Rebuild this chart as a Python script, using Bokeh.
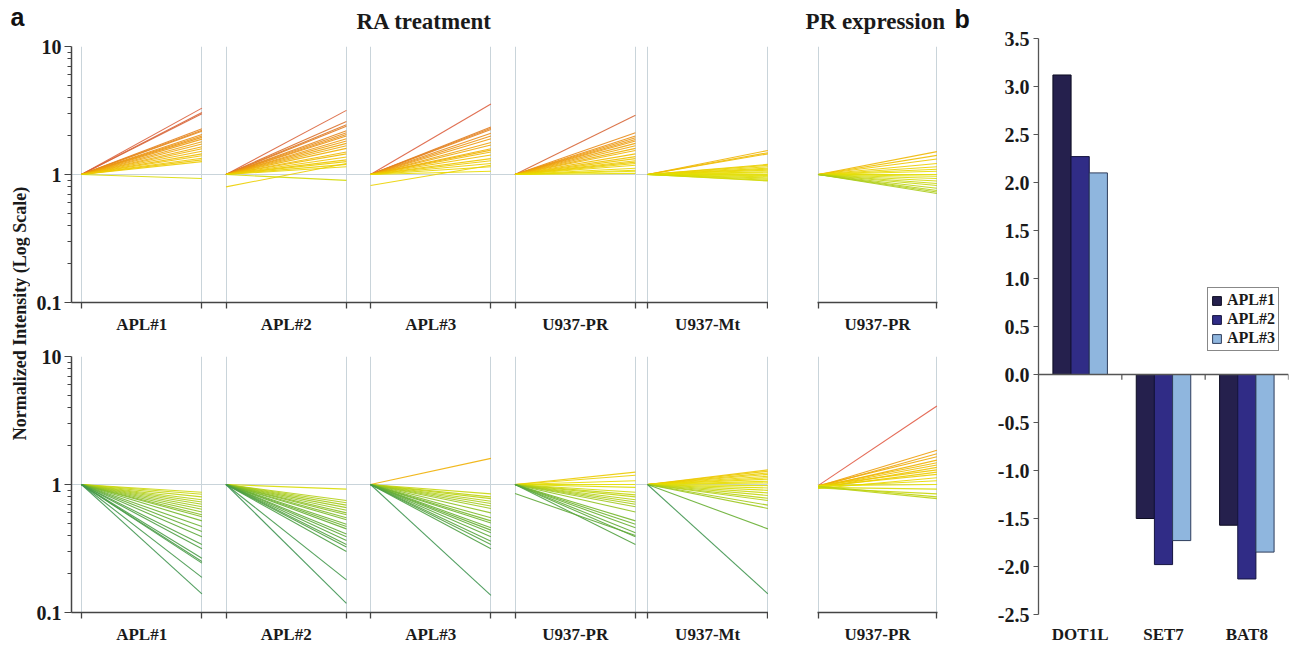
import math
from bokeh.plotting import figure
from bokeh.models import (ColumnDataSource, Range1d, FixedTicker, Span, Legend,
                          LegendItem, NumeralTickFormatter)
from bokeh.layouts import row, column
from bokeh.embed import file_html
from bokeh.resources import INLINE
from bokeh.core.properties import value

# ---------------------------------------------------------------- data
ra_panels = ["APL#1", "APL#2", "APL#3", "U937-PR", "U937-Mt"]
pr_panels = ["U937-PR"]
title_ra = "RA treatment"
title_pr = "PR expression"
y_label = "Normalized Intensity (Log Scale)"
log_ticks = [0.1, 1, 10]
log_tick_labels = ["0.1", "1", "10"]

# upper row: genes induced by RA (start value -> end value, normalized)
top_apl1_start = [1.0, 1.0, 1.0, 1.0, 1.0, 1.0, 1.0, 1.0, 1.0, 1.0, 1.0, 1.0, 1.0, 1.0, 1.0, 1.0, 1.0, 1.0, 1.0, 1.0, 1.0]
top_apl1_end = [3.30, 3.05, 2.98, 2.28, 2.22, 2.18, 2.05, 2.00, 1.95, 1.89, 1.80, 1.73, 1.65, 1.59, 1.52, 1.45, 1.40, 1.34, 1.30, 1.26, 0.93]
top_apl2_start = [1.0, 1.0, 1.0, 1.0, 1.0, 1.0, 1.0, 1.0, 1.0, 1.0, 1.0, 1.0, 1.0, 1.0, 1.0, 1.0, 1.0, 1.0, 1.0, 1.0, 0.80, 1.0]
top_apl2_end = [3.17, 2.60, 2.45, 2.38, 2.20, 2.12, 2.05, 2.00, 1.90, 1.83, 1.75, 1.68, 1.60, 1.50, 1.45, 1.37, 1.30, 1.26, 1.20, 1.15, 1.22, 0.90]
top_apl3_start = [1.0, 1.0, 1.0, 1.0, 1.0, 1.0, 1.0, 1.0, 1.0, 1.0, 1.0, 1.0, 1.0, 1.0, 1.0, 1.0, 1.0, 1.0, 0.82]
top_apl3_end = [3.55, 2.35, 2.30, 2.25, 2.10, 2.00, 1.90, 1.78, 1.70, 1.59, 1.55, 1.50, 1.42, 1.33, 1.28, 1.22, 1.15, 1.06, 1.18]
top_u937pr_start = [1.0, 1.0, 1.0, 1.0, 1.0, 1.0, 1.0, 1.0, 1.0, 1.0, 1.0, 1.0, 1.0, 1.0, 1.0, 1.0, 1.0, 1.0, 1.0, 1.0, 1.0]
top_u937pr_end = [2.90, 2.12, 2.00, 1.94, 1.88, 1.83, 1.75, 1.68, 1.60, 1.54, 1.45, 1.38, 1.33, 1.28, 1.25, 1.22, 1.18, 1.12, 1.08, 1.06, 1.02]
top_u937mt_start = [1.0, 1.0, 1.0, 1.0, 1.0, 1.0, 1.0, 1.0, 1.0, 1.0, 1.0, 1.0, 1.0, 1.0, 1.0, 1.0, 1.0, 1.0]
top_u937mt_end = [1.54, 1.48, 1.45, 1.20, 1.18, 1.15, 1.12, 1.10, 1.08, 1.05, 1.03, 1.00, 0.98, 0.96, 0.94, 0.92, 0.90, 0.89]
top_pr_start = [1.0, 1.0, 1.0, 1.0, 1.0, 1.0, 1.0, 1.0, 1.0, 1.0, 1.0, 1.0, 1.0, 1.0, 1.0, 1.0, 1.0]
top_pr_end = [1.51, 1.41, 1.32, 1.22, 1.15, 1.10, 1.06, 1.00, 0.97, 0.93, 0.89, 0.85, 0.82, 0.78, 0.75, 0.73, 0.71]

# lower row: genes repressed by RA
bot_apl1_start = [1.0, 1.0, 1.0, 1.0, 1.0, 1.0, 1.0, 1.0, 1.0, 1.0, 1.0, 1.0, 1.0, 1.0, 1.0, 1.0, 1.0, 1.0, 1.0, 1.0, 1.0, 1.0]
bot_apl1_end = [0.87, 0.84, 0.80, 0.76, 0.73, 0.70, 0.67, 0.64, 0.61, 0.58, 0.56, 0.52, 0.47, 0.43, 0.39, 0.34, 0.315, 0.265, 0.25, 0.243, 0.188, 0.14]
bot_apl2_start = [1.0, 1.0, 1.0, 1.0, 1.0, 1.0, 1.0, 1.0, 1.0, 1.0, 1.0, 1.0, 1.0, 1.0, 1.0, 1.0, 1.0, 1.0, 1.0, 1.0, 1.0]
bot_apl2_end = [0.92, 0.75, 0.72, 0.69, 0.66, 0.63, 0.60, 0.58, 0.55, 0.53, 0.49, 0.47, 0.45, 0.41, 0.39, 0.365, 0.34, 0.325, 0.30, 0.18, 0.118]
bot_apl3_start = [1.0, 1.0, 1.0, 1.0, 1.0, 1.0, 1.0, 1.0, 1.0, 1.0, 1.0, 1.0, 1.0, 1.0, 1.0, 1.0, 1.0, 1.0, 1.0, 1.0]
bot_apl3_end = [1.60, 0.845, 0.80, 0.775, 0.74, 0.71, 0.68, 0.65, 0.60, 0.55, 0.52, 0.50, 0.46, 0.44, 0.42, 0.39, 0.36, 0.34, 0.315, 0.136]
bot_u937pr_start = [1.0, 1.0, 1.0, 1.0, 1.0, 1.0, 1.0, 1.0, 1.0, 1.0, 1.0, 1.0, 1.0, 1.0, 1.0, 1.0, 1.0, 1.0, 1.0, 0.85]
bot_u937pr_end = [1.25, 1.18, 1.07, 1.00, 0.95, 0.87, 0.83, 0.80, 0.76, 0.73, 0.70, 0.67, 0.61, 0.52, 0.49, 0.46, 0.42, 0.39, 0.34, 0.40]
bot_u937mt_start = [1.0, 1.0, 1.0, 1.0, 1.0, 1.0, 1.0, 1.0, 1.0, 1.0, 1.0, 1.0, 1.0, 1.0, 1.0, 1.0, 1.0, 1.0, 1.0, 1.0]
bot_u937mt_end = [1.30, 1.27, 1.23, 1.20, 1.16, 1.13, 1.10, 1.06, 1.03, 0.98, 0.94, 0.90, 0.86, 0.82, 0.78, 0.75, 0.69, 0.65, 0.45, 0.14]
bot_pr_start = [0.98, 0.97, 0.96, 0.98, 0.95, 0.97, 0.96, 0.94, 0.98, 0.95, 0.97, 0.93, 0.96, 0.98, 0.95, 0.94, 0.97, 0.96]
bot_pr_end = [4.10, 1.85, 1.74, 1.65, 1.55, 1.48, 1.42, 1.36, 1.30, 1.25, 1.20, 1.13, 1.07, 1.00, 0.92, 0.845, 0.80, 0.775]

# panel b
genes = ["DOT1L", "SET7", "BAT8"]
series = ["APL#1", "APL#2", "APL#3"]
apl1_vals = [3.12, -1.50, -1.57]
apl2_vals = [2.27, -1.98, -2.13]
apl3_vals = [2.10, -1.73, -1.85]
bar_ticks = [-2.5, -2.0, -1.5, -1.0, -0.5, 0.0, 0.5, 1.0, 1.5, 2.0, 2.5, 3.0, 3.5]

# ---------------------------------------------------------------- style / layout
SERIF = "Liberation Serif"
SANS = "Liberation Sans"
TXT = "#1a1a1a"
AXC = "#444444"
GRIDC = "#c9d4da"
PANEL_W = 10
PANEL_STARTS = [0, 12, 24, 36, 47]
COLOR_STOPS = [(-0.9, (62, 148, 82)), (-0.5, (78, 158, 68)), (-0.3, (112, 180, 46)),
               (-0.15, (170, 204, 24)), (0.0, (230, 224, 0)), (0.15, (240, 192, 0)),
               (0.3, (236, 148, 18)), (0.45, (214, 104, 56)), (0.62, (226, 90, 70))]
BAR_COLORS = ["#25204d", "#302c86", "#8fb6de"]
BAR_LINES = ["#0d0c22", "#15143f", "#2e3d5c"]
BAR_OFFSETS = [-0.218, 0.0, 0.218]
BAR_W = 0.218


def color_for(v):
    t = math.log10(v)
    if t <= COLOR_STOPS[0][0]:
        c = COLOR_STOPS[0][1]
    elif t >= COLOR_STOPS[-1][0]:
        c = COLOR_STOPS[-1][1]
    else:
        for (t0, c0), (t1, c1) in zip(COLOR_STOPS[:-1], COLOR_STOPS[1:]):
            if t0 <= t <= t1:
                f = (t - t0) / (t1 - t0)
                c = tuple(int(round(a + (b - a) * f)) for a, b in zip(c0, c1))
                break
    return "#%02x%02x%02x" % c


def lines_source(pairs, starts):
    xs, ys, cs = [], [], []
    for (s_list, e_list), x0 in zip(pairs, starts):
        for s, e in zip(s_list, e_list):
            xs.append([x0, x0 + PANEL_W])
            ys.append([s, e])
            cs.append(color_for(e))
    return ColumnDataSource(dict(xs=xs, ys=ys, color=cs))


def make_panel(width, height, xr, starts, names, pairs, mb, show_y):
    p = figure(width=width, height=height, x_range=xr, y_range=Range1d(0.1, 10),
               y_axis_type="log", output_backend="svg", toolbar_location=None,
               min_border_left=mb[0], min_border_right=mb[1],
               min_border_top=mb[2], min_border_bottom=mb[3])
    p.outline_line_color = None
    bounds = []
    for s in starts:
        bounds += [s, s + PANEL_W]
    centers = [s + PANEL_W / 2 for s in starts]
    xa = p.xaxis[0]
    xa.ticker = FixedTicker(ticks=centers, minor_ticks=bounds)
    xa.major_label_overrides = {c: n for c, n in zip(centers, names)}
    xa.major_tick_out = 0
    xa.major_tick_in = 0
    xa.minor_tick_out = 6
    xa.minor_tick_in = 0
    xa.minor_tick_line_color = AXC
    xa.minor_tick_line_width = 1.3
    xa.axis_line_color = AXC
    xa.axis_line_width = 1.5
    xa.major_label_standoff = 6
    xa.major_label_text_font = SERIF
    xa.major_label_text_font_style = "bold"
    xa.major_label_text_font_size = "17px"
    xa.major_label_text_color = TXT
    ya = p.yaxis[0]
    ya.ticker = FixedTicker(ticks=log_ticks,
                            minor_ticks=[0.2, 0.3, 0.4, 0.5, 0.6, 0.7, 0.8, 0.9,
                                         2, 3, 4, 5, 6, 7, 8, 9])
    ya.major_label_overrides = {t: l for t, l in zip(log_ticks, log_tick_labels)}
    ya.major_tick_out = 7
    ya.major_tick_in = 0
    ya.minor_tick_out = 4
    ya.minor_tick_in = 0
    ya.major_tick_line_color = AXC
    ya.minor_tick_line_color = AXC
    ya.axis_line_color = AXC
    ya.axis_line_width = 1.5
    ya.major_label_standoff = 3
    ya.major_label_text_font = SERIF
    ya.major_label_text_font_style = "bold"
    ya.major_label_text_font_size = "20px"
    ya.major_label_text_color = TXT
    ya.visible = show_y
    p.xgrid.ticker = FixedTicker(ticks=bounds)
    p.ygrid.ticker = FixedTicker(ticks=[1, 10])
    p.grid.grid_line_color = GRIDC
    p.grid.grid_line_width = 1
    src = lines_source(pairs, starts)
    p.multi_line(xs="xs", ys="ys", line_color="color", source=src,
                 line_width=1.1, line_alpha=0.9)
    return p


LBL_W, A_W, PR_W, B_W = 30, 738, 217, 305
HDR_H, TOP_H, BOT_H, B_H = 36, 310, 301, 647
xr_a = (-0.83, 57.05)

a_top = make_panel(A_W, TOP_H, Range1d(*xr_a), PANEL_STARTS, ra_panels,
                   [(top_apl1_start, top_apl1_end), (top_apl2_start, top_apl2_end),
                    (top_apl3_start, top_apl3_end), (top_u937pr_start, top_u937pr_end),
                    (top_u937mt_start, top_u937mt_end)],
                   (41, 0, 10, 44), True)
pr_top = make_panel(PR_W, TOP_H, Range1d(-0.05, 10.05), [0], pr_panels,
                    [(top_pr_start, top_pr_end)], (49, 48, 10, 44), False)
a_bot = make_panel(A_W, BOT_H, Range1d(*xr_a), PANEL_STARTS, ra_panels,
                   [(bot_apl1_start, bot_apl1_end), (bot_apl2_start, bot_apl2_end),
                    (bot_apl3_start, bot_apl3_end), (bot_u937pr_start, bot_u937pr_end),
                    (bot_u937mt_start, bot_u937mt_end)],
                   (41, 0, 10, 35), True)
pr_bot = make_panel(PR_W, BOT_H, Range1d(-0.05, 10.05), [0], pr_panels,
                    [(bot_pr_start, bot_pr_end)], (49, 48, 10, 35), False)

# header strip with panel letters and titles (pixel positions)
HDR_W = LBL_W + A_W + PR_W
hdr = figure(width=HDR_W, height=HDR_H, x_range=Range1d(0, HDR_W), y_range=Range1d(HDR_H, 0),
             x_axis_location=None, y_axis_location=None, min_border=0,
             output_backend="svg", toolbar_location=None)
hdr.outline_line_color = None
hdr.grid.visible = False
hdr.text(x=[10, 954], y=[16, 18], text=["a", "b"], text_font=value(SANS),
         text_font_style="bold", text_font_size="25px", text_baseline="middle",
         text_align="left", text_color="#111111")
hdr.text(x=[356, 805], y=[21, 21], text=[title_ra, title_pr], text_font=value(SERIF),
         text_font_style="bold", text_font_size="23px", text_baseline="middle",
         text_align="left", text_color=TXT)

# y-axis title strip
LBL_H = TOP_H + BOT_H
lbl = figure(width=LBL_W, height=LBL_H, x_range=Range1d(0, LBL_W), y_range=Range1d(LBL_H, 0),
             x_axis_location=None, y_axis_location=None, min_border=0,
             output_backend="svg", toolbar_location=None)
lbl.outline_line_color = None
lbl.grid.visible = False
lbl.text(x=[19], y=[277], text=[y_label], angle=math.pi / 2, text_font=value(SERIF),
         text_font_style="bold", text_font_size="18px", text_align="center",
         text_baseline="middle", text_color=TXT)

# ---------------------------------------------------------------- panel b
pb = figure(width=B_W, height=B_H, x_range=Range1d(-0.5, 2.5), y_range=Range1d(-2.5, 3.5),
            output_backend="svg", toolbar_location=None,
            min_border_left=53, min_border_right=2, min_border_top=38, min_border_bottom=33)
pb.outline_line_color = None
pb.grid.visible = False
renderers = []
for vals, fc, lc, off in zip([apl1_vals, apl2_vals, apl3_vals], BAR_COLORS, BAR_LINES, BAR_OFFSETS):
    src = ColumnDataSource(dict(x=[i + off for i in range(len(genes))], top=vals))
    r = pb.vbar(x="x", top="top", bottom=0, width=BAR_W, source=src,
                fill_color=fc, line_color=lc, line_width=1)
    renderers.append(r)
pb.add_layout(Span(location=0, dimension="width", line_color="#555555", line_width=1.3))
bounds_b = [i + 0.5 for i in range(len(genes))]
pb.segment(x0=bounds_b, y0=[0] * len(bounds_b), x1=bounds_b, y1=[-0.055] * len(bounds_b),
           line_color="#555555", line_width=1.2)
xb = pb.xaxis[0]
xb.ticker = FixedTicker(ticks=list(range(len(genes))))
xb.major_label_overrides = {i: g for i, g in enumerate(genes)}
xb.axis_line_color = None
xb.major_tick_line_color = None
xb.minor_tick_line_color = None
xb.major_tick_out = 0
xb.major_tick_in = 0
xb.major_label_standoff = 10
xb.major_label_text_font = SERIF
xb.major_label_text_font_style = "bold"
xb.major_label_text_font_size = "17px"
xb.major_label_text_color = TXT
yb = pb.yaxis[0]
yb.ticker = FixedTicker(ticks=bar_ticks)
yb.formatter = NumeralTickFormatter(format="0.0")
yb.axis_line_color = "#555555"
yb.axis_line_width = 1.3
yb.major_tick_line_color = "#555555"
yb.major_tick_out = 5
yb.major_tick_in = 0
yb.minor_tick_line_color = None
yb.major_label_standoff = 4
yb.major_label_text_font = SERIF
yb.major_label_text_font_style = "bold"
yb.major_label_text_font_size = "20px"
yb.major_label_text_color = TXT
legend = Legend(items=[LegendItem(label=s, renderers=[r]) for s, r in zip(series, renderers)],
                location=(169, 263), border_line_color="#111111", border_line_width=1,
                padding=3, spacing=1, margin=0, glyph_width=11, glyph_height=11,
                label_standoff=5, label_height=16, label_text_font=SERIF,
                label_text_font_style="bold", label_text_font_size="16px",
                label_text_color=TXT, background_fill_alpha=1)
pb.add_layout(legend)

left = column(hdr, row(lbl, column(row(a_top, pr_top), row(a_bot, pr_bot))))
page = row(left, pb)
open("out.html", "w").write(file_html(page, INLINE))
